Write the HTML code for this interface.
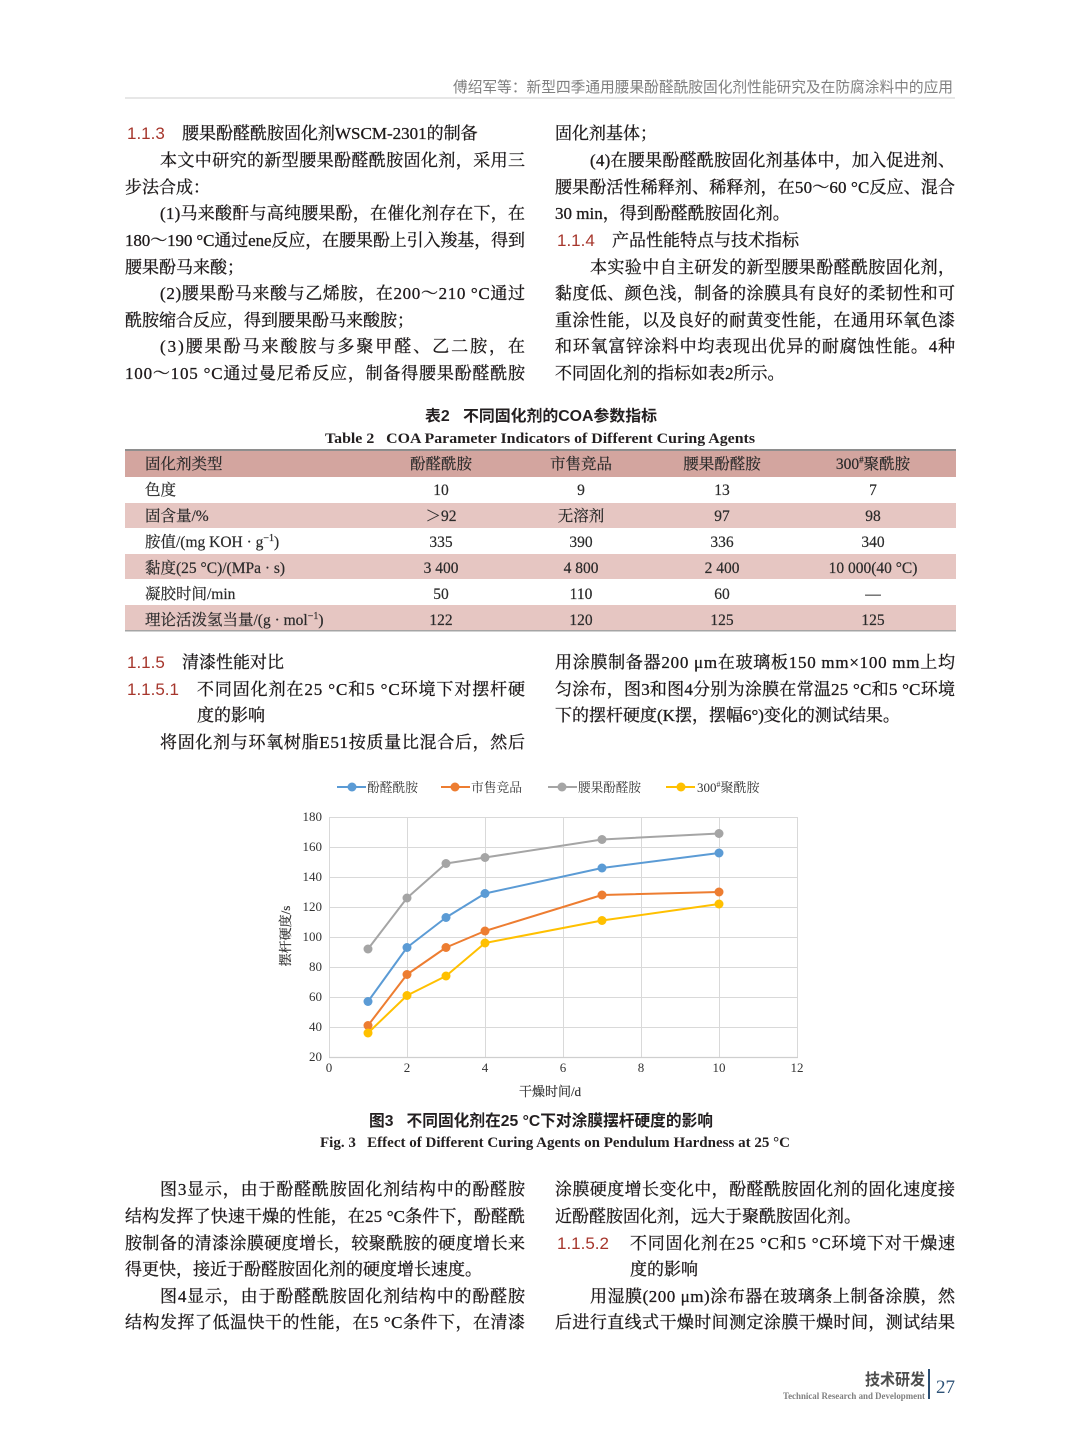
<!DOCTYPE html>
<html>
<head>
<meta charset="utf-8">
<style>
html,body{margin:0;padding:0;background:#fff;}
body{width:1080px;height:1455px;overflow:hidden;}
svg{display:block;}
.s{font-family:"Liberation Serif","Noto Serif CJK SC",serif;}
.h{font-family:"Liberation Sans","Noto Sans CJK SC",sans-serif;}
.t{font-family:"Liberation Serif","Noto Serif CJK SC",serif;font-size:17px;fill:#1e1a1b;stroke:#1e1a1b;stroke-width:0.3px;}
.n{font-family:"Liberation Sans","Noto Sans CJK SC",sans-serif;font-size:17px;fill:#a6362c;}
.c{font-family:"Liberation Serif","Noto Serif CJK SC",serif;font-size:15.5px;fill:#2a2a2a;stroke:#2a2a2a;stroke-width:0.2px;}
.tk{font-family:"Liberation Serif","Noto Serif CJK SC",serif;font-size:13px;fill:#333;}
.lg{font-family:"Liberation Serif","Noto Serif CJK SC",serif;font-size:13px;fill:#333;}
</style>
</head>
<body>
<svg width="1080" height="1455" viewBox="0 0 1080 1455" xmlns="http://www.w3.org/2000/svg">
<rect x="0" y="0" width="1080" height="1455" fill="#ffffff"/>

<!-- Header -->
<text class="h" x="953" y="92" text-anchor="end" font-size="15" fill="#7f7f7f" textLength="500" lengthAdjust="spacingAndGlyphs">傅绍军等：新型四季通用腰果酚醛酰胺固化剂性能研究及在防腐涂料中的应用</text>
<rect x="125" y="97.5" width="830" height="1" fill="#cfcfcf"/>

<!-- Left column top -->
<text class="n" x="127" y="139">1.1.3</text>
<text class="t" x="182" y="139">腰果酚醛酰胺固化剂WSCM-2301的制备</text>
<text class="t" x="160" y="166" textLength="365" lengthAdjust="spacing">本文中研究的新型腰果酚醛酰胺固化剂，采用三</text>
<text class="t" x="125" y="193">步法合成：</text>
<text class="t" x="160" y="219" textLength="365" lengthAdjust="spacing">(1)马来酸酐与高纯腰果酚，在催化剂存在下，在</text>
<text class="t" x="125" y="246" textLength="400" lengthAdjust="spacing">180～190 °C通过ene反应，在腰果酚上引入羧基，得到</text>
<text class="t" x="125" y="273">腰果酚马来酸；</text>
<text class="t" x="160" y="299" textLength="365" lengthAdjust="spacing">(2)腰果酚马来酸与乙烯胺，在200～210 °C通过</text>
<text class="t" x="125" y="326">酰胺缩合反应，得到腰果酚马来酸胺；</text>
<text class="t" x="160" y="352" textLength="365" lengthAdjust="spacing">(3)腰果酚马来酸胺与多聚甲醛、乙二胺，在</text>
<text class="t" x="125" y="379" textLength="400" lengthAdjust="spacing">100～105 °C通过曼尼希反应，制备得腰果酚醛酰胺</text>

<!-- Right column top -->
<text class="t" x="555" y="139">固化剂基体；</text>
<text class="t" x="590" y="166" textLength="365" lengthAdjust="spacing">(4)在腰果酚醛酰胺固化剂基体中，加入促进剂、</text>
<text class="t" x="555" y="193" textLength="400" lengthAdjust="spacing">腰果酚活性稀释剂、稀释剂，在50～60 °C反应、混合</text>
<text class="t" x="555" y="219">30 min，得到酚醛酰胺固化剂。</text>
<text class="n" x="557" y="246">1.1.4</text>
<text class="t" x="612" y="246">产品性能特点与技术指标</text>
<text class="t" x="590" y="273" textLength="365" lengthAdjust="spacing">本实验中自主研发的新型腰果酚醛酰胺固化剂，</text>
<text class="t" x="555" y="299" textLength="400" lengthAdjust="spacing">黏度低、颜色浅，制备的涂膜具有良好的柔韧性和可</text>
<text class="t" x="555" y="326" textLength="400" lengthAdjust="spacing">重涂性能，以及良好的耐黄变性能，在通用环氧色漆</text>
<text class="t" x="555" y="352" textLength="400" lengthAdjust="spacing">和环氧富锌涂料中均表现出优异的耐腐蚀性能。4种</text>
<text class="t" x="555" y="379">不同固化剂的指标如表2所示。</text>

<!-- Table title -->
<text class="h" x="425" y="421" font-size="15.5" font-weight="bold" fill="#231f20" textLength="232" lengthAdjust="spacingAndGlyphs">表2&#160;&#160;&#160;不同固化剂的COA参数指标</text>
<text class="s" x="325" y="443" font-size="15" font-weight="bold" fill="#231f20" textLength="430" lengthAdjust="spacingAndGlyphs">Table 2&#160;&#160;&#160;COA Parameter Indicators of Different Curing Agents</text>

<!-- Table -->
<rect x="125" y="450" width="831" height="27" fill="#d3a59f"/>
<rect x="125" y="503" width="831" height="25" fill="#e6c6c2"/>
<rect x="125" y="554" width="831" height="25" fill="#e6c6c2"/>
<rect x="125" y="605" width="831" height="25" fill="#e6c6c2"/>
<rect x="125" y="449" width="831" height="2" fill="#8e8e8e"/>
<rect x="125" y="630" width="831" height="1.5" fill="#a5a5a5"/>

<g class="c">
<text x="145" y="469">固化剂类型</text>
<text x="441" y="469" text-anchor="middle">酚醛酰胺</text>
<text x="581" y="469" text-anchor="middle">市售竞品</text>
<text x="722" y="469" text-anchor="middle">腰果酚醛胺</text>
<text x="873" y="469" text-anchor="middle">300<tspan font-size="9" dy="-6">#</tspan><tspan dy="6">聚酰胺</tspan></text>

<text x="145" y="495">色度</text>
<text x="441" y="495" text-anchor="middle">10</text>
<text x="581" y="495" text-anchor="middle">9</text>
<text x="722" y="495" text-anchor="middle">13</text>
<text x="873" y="495" text-anchor="middle">7</text>

<text x="145" y="521">固含量/%</text>
<text x="441" y="521" text-anchor="middle">＞92</text>
<text x="581" y="521" text-anchor="middle">无溶剂</text>
<text x="722" y="521" text-anchor="middle">97</text>
<text x="873" y="521" text-anchor="middle">98</text>

<text x="145" y="547">胺值/(mg KOH · g<tspan font-size="10" dy="-6">−1</tspan><tspan dy="6">)</tspan></text>
<text x="441" y="547" text-anchor="middle">335</text>
<text x="581" y="547" text-anchor="middle">390</text>
<text x="722" y="547" text-anchor="middle">336</text>
<text x="873" y="547" text-anchor="middle">340</text>

<text x="145" y="573">黏度(25 °C)/(MPa · s)</text>
<text x="441" y="573" text-anchor="middle">3 400</text>
<text x="581" y="573" text-anchor="middle">4 800</text>
<text x="722" y="573" text-anchor="middle">2 400</text>
<text x="873" y="573" text-anchor="middle">10 000(40 °C)</text>

<text x="145" y="599">凝胶时间/min</text>
<text x="441" y="599" text-anchor="middle">50</text>
<text x="581" y="599" text-anchor="middle">110</text>
<text x="722" y="599" text-anchor="middle">60</text>
<text x="873" y="599" text-anchor="middle">—</text>

<text x="145" y="625">理论活泼氢当量/(g · mol<tspan font-size="10" dy="-6">−1</tspan><tspan dy="6">)</tspan></text>
<text x="441" y="625" text-anchor="middle">122</text>
<text x="581" y="625" text-anchor="middle">120</text>
<text x="722" y="625" text-anchor="middle">125</text>
<text x="873" y="625" text-anchor="middle">125</text>
</g>

<!-- Section 1.1.5 -->
<text class="n" x="127" y="668">1.1.5</text>
<text class="t" x="182" y="668">清漆性能对比</text>
<text class="n" x="127" y="695">1.1.5.1</text>
<text class="t" x="197" y="695" textLength="328" lengthAdjust="spacing">不同固化剂在25 °C和5 °C环境下对摆杆硬</text>
<text class="t" x="197" y="721">度的影响</text>
<text class="t" x="160" y="748" textLength="365" lengthAdjust="spacing">将固化剂与环氧树脂E51按质量比混合后，然后</text>

<text class="t" x="555" y="668" textLength="400" lengthAdjust="spacing">用涂膜制备器200 μm在玻璃板150 mm×100 mm上均</text>
<text class="t" x="555" y="695" textLength="400" lengthAdjust="spacing">匀涂布，图3和图4分别为涂膜在常温25 °C和5 °C环境</text>
<text class="t" x="555" y="721">下的摆杆硬度(K摆，摆幅6°)变化的测试结果。</text>

<!-- Chart legend -->
<g stroke-width="2">
<line x1="337" y1="787" x2="366" y2="787" stroke="#5b9bd5"/>
<circle cx="352" cy="787" r="4.5" fill="#5b9bd5" stroke="none"/>
<line x1="441" y1="787" x2="470" y2="787" stroke="#ed7d31"/>
<circle cx="455" cy="787" r="4.5" fill="#ed7d31" stroke="none"/>
<line x1="548" y1="787" x2="577" y2="787" stroke="#a5a5a5"/>
<circle cx="562" cy="787" r="4.5" fill="#a5a5a5" stroke="none"/>
<line x1="666" y1="787" x2="695" y2="787" stroke="#ffc000"/>
<circle cx="681" cy="787" r="4.5" fill="#ffc000" stroke="none"/>
</g>
<text class="lg" x="367" y="792" textLength="51" lengthAdjust="spacingAndGlyphs">酚醛酰胺</text>
<text class="lg" x="471" y="792" textLength="51" lengthAdjust="spacingAndGlyphs">市售竞品</text>
<text class="lg" x="578" y="792" textLength="63" lengthAdjust="spacingAndGlyphs">腰果酚醛胺</text>
<text class="lg" x="697" y="792">300<tspan font-size="8" dy="-5">#</tspan><tspan dy="5">聚酰胺</tspan></text>

<!-- Grid -->
<g stroke="#d9d9d9" stroke-width="1">
<line x1="329" y1="817.5" x2="797" y2="817.5"/>
<line x1="329" y1="847.5" x2="797" y2="847.5"/>
<line x1="329" y1="877.5" x2="797" y2="877.5"/>
<line x1="329" y1="907.5" x2="797" y2="907.5"/>
<line x1="329" y1="937.5" x2="797" y2="937.5"/>
<line x1="329" y1="967.5" x2="797" y2="967.5"/>
<line x1="329" y1="997.5" x2="797" y2="997.5"/>
<line x1="329" y1="1027.5" x2="797" y2="1027.5"/>
<line x1="329.5" y1="817" x2="329.5" y2="1057"/>
<line x1="407.5" y1="817" x2="407.5" y2="1057"/>
<line x1="485.5" y1="817" x2="485.5" y2="1057"/>
<line x1="563.5" y1="817" x2="563.5" y2="1057"/>
<line x1="641.5" y1="817" x2="641.5" y2="1057"/>
<line x1="719.5" y1="817" x2="719.5" y2="1057"/>
<line x1="797.5" y1="817" x2="797.5" y2="1057"/>
</g>
<line x1="329" y1="1057.5" x2="798" y2="1057.5" stroke="#cfcfcf" stroke-width="1.2"/>

<!-- Tick labels -->
<g class="tk" text-anchor="end">
<text x="322" y="821">180</text>
<text x="322" y="851">160</text>
<text x="322" y="881">140</text>
<text x="322" y="911">120</text>
<text x="322" y="941">100</text>
<text x="322" y="971">80</text>
<text x="322" y="1001">60</text>
<text x="322" y="1031">40</text>
<text x="322" y="1061">20</text>
</g>
<g class="tk" text-anchor="middle">
<text x="329" y="1072">0</text>
<text x="407" y="1072">2</text>
<text x="485" y="1072">4</text>
<text x="563" y="1072">6</text>
<text x="641" y="1072">8</text>
<text x="719" y="1072">10</text>
<text x="797" y="1072">12</text>
</g>
<text class="lg" x="550" y="1096" text-anchor="middle" font-size="14" stroke="#333" stroke-width="0.2">干燥时间/d</text>
<text class="lg" transform="translate(290,936) rotate(-90)" text-anchor="middle" font-size="14" stroke="#333" stroke-width="0.2">摆杆硬度/s</text>

<!-- Series -->
<g fill="none" stroke-width="2" stroke-linejoin="round">
<polyline stroke="#5b9bd5" points="368,1001.5 407,947.5 446,917.5 485,893.5 602,868 719,853"/>
<polyline stroke="#ed7d31" points="368,1025.5 407,974.5 446,947.5 485,931 602,895 719,892"/>
<polyline stroke="#a5a5a5" points="368,949 407,898 446,863.5 485,857.5 602,839.5 719,833.5"/>
<polyline stroke="#ffc000" points="368,1033 407,995.5 446,976 485,943 602,920.5 719,904"/>
</g>
<g fill="#5b9bd5">
<circle cx="368" cy="1001.5" r="4.5"/><circle cx="407" cy="947.5" r="4.5"/><circle cx="446" cy="917.5" r="4.5"/><circle cx="485" cy="893.5" r="4.5"/><circle cx="602" cy="868" r="4.5"/><circle cx="719" cy="853" r="4.5"/>
</g>
<g fill="#ed7d31">
<circle cx="368" cy="1025.5" r="4.5"/><circle cx="407" cy="974.5" r="4.5"/><circle cx="446" cy="947.5" r="4.5"/><circle cx="485" cy="931" r="4.5"/><circle cx="602" cy="895" r="4.5"/><circle cx="719" cy="892" r="4.5"/>
</g>
<g fill="#a5a5a5">
<circle cx="368" cy="949" r="4.5"/><circle cx="407" cy="898" r="4.5"/><circle cx="446" cy="863.5" r="4.5"/><circle cx="485" cy="857.5" r="4.5"/><circle cx="602" cy="839.5" r="4.5"/><circle cx="719" cy="833.5" r="4.5"/>
</g>
<g fill="#ffc000">
<circle cx="368" cy="1033" r="4.5"/><circle cx="407" cy="995.5" r="4.5"/><circle cx="446" cy="976" r="4.5"/><circle cx="485" cy="943" r="4.5"/><circle cx="602" cy="920.5" r="4.5"/><circle cx="719" cy="904" r="4.5"/>
</g>

<!-- Figure caption -->
<text class="h" x="369" y="1126" font-size="16" font-weight="bold" fill="#231f20" textLength="344" lengthAdjust="spacingAndGlyphs">图3&#160;&#160;&#160;不同固化剂在25 °C下对涂膜摆杆硬度的影响</text>
<text class="s" x="320" y="1147" font-size="15" font-weight="bold" fill="#231f20" textLength="470" lengthAdjust="spacingAndGlyphs">Fig. 3&#160;&#160;&#160;Effect of Different Curing Agents on Pendulum Hardness at 25 °C</text>

<!-- Bottom text left -->
<text class="t" x="160" y="1195" textLength="365" lengthAdjust="spacing">图3显示，由于酚醛酰胺固化剂结构中的酚醛胺</text>
<text class="t" x="125" y="1222" textLength="400" lengthAdjust="spacing">结构发挥了快速干燥的性能，在25 °C条件下，酚醛酰</text>
<text class="t" x="125" y="1249" textLength="400" lengthAdjust="spacing">胺制备的清漆涂膜硬度增长，较聚酰胺的硬度增长来</text>
<text class="t" x="125" y="1275">得更快，接近于酚醛胺固化剂的硬度增长速度。</text>
<text class="t" x="160" y="1302" textLength="365" lengthAdjust="spacing">图4显示，由于酚醛酰胺固化剂结构中的酚醛胺</text>
<text class="t" x="125" y="1328" textLength="400" lengthAdjust="spacing">结构发挥了低温快干的性能，在5 °C条件下，在清漆</text>

<!-- Bottom text right -->
<text class="t" x="555" y="1195" textLength="400" lengthAdjust="spacing">涂膜硬度增长变化中，酚醛酰胺固化剂的固化速度接</text>
<text class="t" x="555" y="1222">近酚醛胺固化剂，远大于聚酰胺固化剂。</text>
<text class="n" x="557" y="1249">1.1.5.2</text>
<text class="t" x="630" y="1249" textLength="325" lengthAdjust="spacing">不同固化剂在25 °C和5 °C环境下对干燥速</text>
<text class="t" x="630" y="1275">度的影响</text>
<text class="t" x="590" y="1302" textLength="365" lengthAdjust="spacing">用湿膜(200 μm)涂布器在玻璃条上制备涂膜，然</text>
<text class="t" x="555" y="1328" textLength="400" lengthAdjust="spacing">后进行直线式干燥时间测定涂膜干燥时间，测试结果</text>

<!-- Footer -->
<text class="h" x="925" y="1385" text-anchor="end" font-size="16" font-weight="bold" fill="#4d4d4d" textLength="60" lengthAdjust="spacingAndGlyphs">技术研发</text>
<text class="s" x="925" y="1399" text-anchor="end" font-size="9" font-weight="bold" fill="#808080" textLength="142" lengthAdjust="spacingAndGlyphs">Technical Research and Development</text>
<rect x="928" y="1369" width="2" height="30" fill="#2b4e72"/>
<text class="s" x="936" y="1393" font-size="19" fill="#2d5277">27</text>
</svg>
</body>
</html>
